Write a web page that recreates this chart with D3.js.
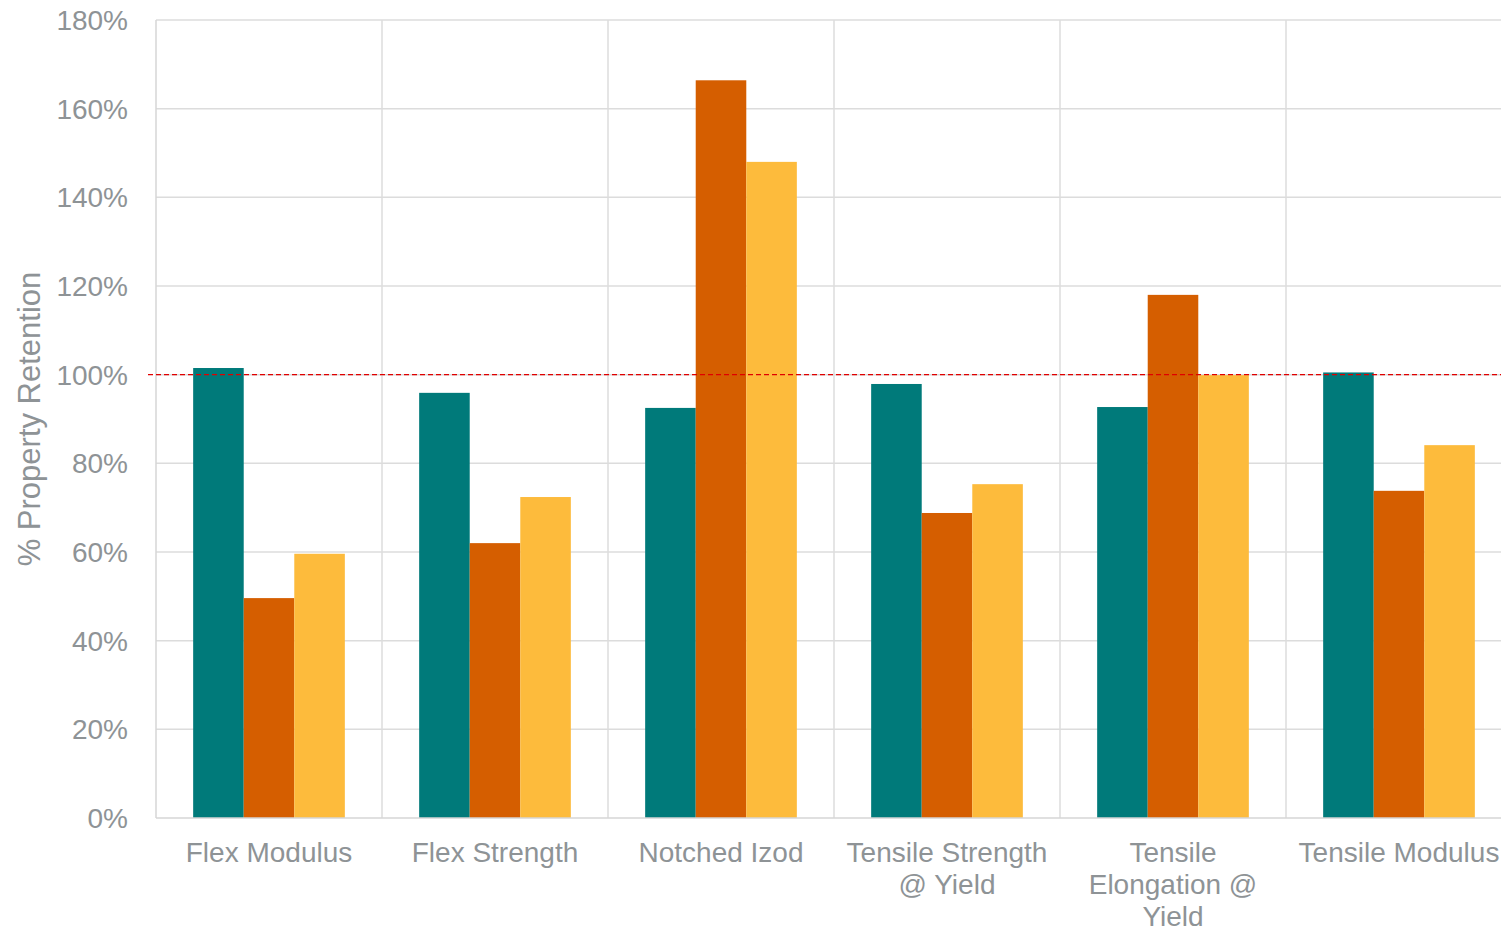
<!DOCTYPE html>
<html>
<head>
<meta charset="utf-8">
<script src="https://cdn.jsdelivr.net/npm/d3@7"></script>
<style>
  html, body { margin: 0; padding: 0; background: #fff; }
  svg { display: block; }
  text { font-family: "Liberation Sans", Arial, sans-serif; fill: #8e9396; }
</style>
</head>
<body>
<svg id="chart" width="1501" height="929"></svg>
<script>
// Property retention by test, three sample conditions
const categories = ["Flex Modulus", "Flex Strength", "Notched Izod", "Tensile Strength @ Yield", "Tensile Elongation @ Yield", "Tensile Modulus"];
const categoryLines = [["Flex Modulus"], ["Flex Strength"], ["Notched Izod"], ["Tensile Strength", "@ Yield"], ["Tensile", "Elongation @", "Yield"], ["Tensile Modulus"]];
const seriesNames = ["A", "B", "C"];
const seriesA = [101.5, 95.9, 92.5, 97.9, 92.7, 100.5];
const seriesB = [49.6, 62.0, 166.4, 68.8, 118.0, 73.8];
const seriesC = [59.6, 72.4, 148.0, 75.3, 99.9, 84.1];
const yTicks = [0, 20, 40, 60, 80, 100, 120, 140, 160, 180];
const referenceLevel = 100;
const colors = ["#007a7a", "#d55e00", "#fdbb3c"];

const seriesValues = [seriesA, seriesB, seriesC];

const svg = d3.select("#chart");
const plotLeft = 156, plotRight = 1512, plotTop = 20, plotBottom = 818;

const x0 = d3.scaleBand().domain(categories).range([plotLeft, plotRight]).paddingInner(0).paddingOuter(0);
const x1 = d3.scaleBand().domain(seriesNames).range([0, x0.bandwidth()]).paddingInner(0).paddingOuter(0.735);
const y = d3.scaleLinear().domain([0, 180]).range([plotBottom, plotTop]);

// horizontal gridlines
svg.append("g").selectAll("line").data(yTicks.filter(t => t > 0)).join("line")
  .attr("x1", plotLeft).attr("x2", plotRight)
  .attr("y1", d => y(d)).attr("y2", d => y(d))
  .attr("stroke", "#dcdcdc").attr("stroke-width", 1.5);

// vertical gridlines between categories
svg.append("g").selectAll("line").data(categories.slice(1)).join("line")
  .attr("x1", d => x0(d)).attr("x2", d => x0(d))
  .attr("y1", plotTop).attr("y2", plotBottom)
  .attr("stroke", "#dcdcdc").attr("stroke-width", 1.5);

// bars
const groups = svg.append("g").selectAll("g").data(categories).join("g")
  .attr("transform", d => `translate(${x0(d)},0)`);
groups.selectAll("rect")
  .data((d, i) => seriesNames.map((s, j) => ({ s, v: seriesValues[j][i], c: colors[j] })))
  .join("rect")
  .attr("x", d => x1(d.s))
  .attr("width", x1.bandwidth())
  .attr("y", d => y(d.v))
  .attr("height", d => y(0) - y(d.v))
  .attr("fill", d => d.c);

// axis lines
svg.append("line").attr("x1", plotLeft).attr("x2", plotLeft).attr("y1", plotTop).attr("y2", plotBottom)
  .attr("stroke", "#d6d6d6").attr("stroke-width", 1.5);
svg.append("line").attr("x1", plotLeft).attr("x2", plotRight).attr("y1", plotBottom).attr("y2", plotBottom)
  .attr("stroke", "#d6d6d6").attr("stroke-width", 1.5);

// 100% reference line
svg.append("line")
  .attr("x1", 148).attr("x2", plotRight)
  .attr("y1", y(referenceLevel)).attr("y2", y(referenceLevel))
  .attr("stroke", "#e00000").attr("stroke-width", 1.3)
  .attr("stroke-dasharray", "5,3");

// y tick labels
svg.append("g").selectAll("text").data(yTicks).join("text")
  .attr("x", 128).attr("y", d => y(d))
  .attr("dy", "0.36em")
  .attr("text-anchor", "end")
  .attr("font-size", 28)
  .text(d => d + "%");

// category labels
const labels = svg.append("g").selectAll("text").data(categories).join("text")
  .attr("text-anchor", "middle")
  .attr("font-size", 28)
  .attr("x", d => x0(d) + x0.bandwidth() / 2)
  .attr("y", 862);
labels.each(function(d, i) {
  d3.select(this).selectAll("tspan").data(categoryLines[i]).join("tspan")
    .attr("x", x0(d) + x0.bandwidth() / 2)
    .attr("dy", (t, k) => k === 0 ? 0 : 32)
    .text(t => t);
});

// y axis title
svg.append("text")
  .attr("transform", `translate(40,${(plotTop + plotBottom) / 2}) rotate(-90)`)
  .attr("text-anchor", "middle")
  .attr("font-size", 31)
  .text("% Property Retention");
</script>
</body>
</html>
